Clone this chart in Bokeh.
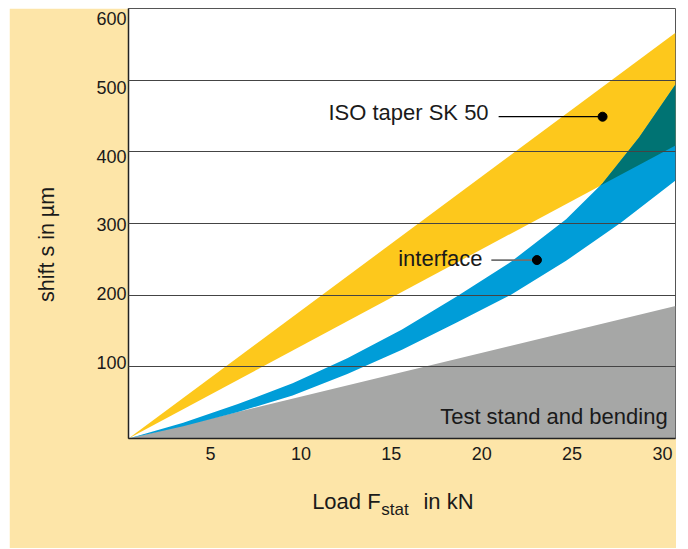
import numpy as np
from bokeh.plotting import figure
from bokeh.models import Range1d, LinearAxis, FixedTicker, Label
from bokeh.embed import file_html
from bokeh.resources import INLINE

# ---------------- data ----------------
iso_x = [0, 30]                 # ISO taper SK 50 band (load, kN)
iso_lower = [0, 409]            # shift, um
iso_upper = [0, 566]

if_upper_x = [0, 3, 6, 9, 12, 15, 18, 21, 24, 26, 28, 30]          # interface band, upper edge
if_upper_y = [0, 22, 48, 77, 112, 152, 198, 247, 306, 356, 420, 494]
if_lower_x = [0, 3, 6, 9, 12, 15, 18, 21, 24, 27, 30]              # interface band, lower edge
if_lower_y = [0, 17, 37, 60, 90, 124, 162, 201, 248, 301, 360]

test_x = [0, 30]                # test stand and bending
test_y = [0, 185]

x_ticks = [5, 10, 15, 20, 25, 30]
y_grid = [100, 200, 300, 400, 500]
y_labels = [100, 200, 300, 400, 500, 600]

iso_marker = (26.0, 449)
if_marker = (22.4, 249)

# ---------------- styling ----------------
FONT = "Liberation Sans"
TXT = "#1a1a1a"
BEIGE = "#FDE5A8"
YELLOW = "#FDC81C"
BLUE = "#009DD8"
TEAL = "#007373"
GRAY = "#A6A7A6"
NB = "\u00a0"

p = figure(width=667, height=540, x_range=Range1d(0, 30), y_range=Range1d(0, 600),
           output_backend="svg", toolbar_location=None, margin=(8, 0, 0, 9),
           min_border_left=119, min_border_right=1, min_border_top=0, min_border_bottom=110,
           background_fill_color="white", border_fill_color=BEIGE,
           outline_line_color="#555555", outline_line_width=1)

# bands
p.varea(x=test_x, y1=[0, 0], y2=test_y, fill_color=GRAY)
p.varea(x=iso_x, y1=iso_lower, y2=iso_upper, fill_color=YELLOW)
p.patch(x=list(if_upper_x) + list(if_lower_x[::-1]),
        y=list(if_upper_y) + list(if_lower_y[::-1]),
        fill_color=BLUE, line_color=None)

# overlap (interface band inside ISO band)
ux = np.array(if_upper_x, dtype=float)
uy = np.array(if_upper_y, dtype=float)
lo = np.interp(ux, iso_x, iso_lower)
d = uy - lo
i = int(np.where((d[:-1] <= 0) & (d[1:] > 0))[0][0])
xi = ux[i] + (ux[i + 1] - ux[i]) * (-d[i]) / (d[i + 1] - d[i])
yi = float(np.interp(xi, iso_x, iso_lower))
sel = ux > xi
top = np.minimum(uy[sel], np.interp(ux[sel], iso_x, iso_upper))
ox = [xi] + list(ux[sel]) + [ux[sel][-1]]
oy = [yi] + list(top) + [float(np.interp(ux[sel][-1], iso_x, iso_lower))]
p.patch(x=ox, y=oy, fill_color=TEAL, line_color=None)

# leader lines and markers
p.line(x=[20.3, iso_marker[0]], y=[iso_marker[1], iso_marker[1]], line_color="black", line_width=1.2)
p.scatter(x=[iso_marker[0]], y=[iso_marker[1]], size=9, color="black")
p.line(x=[19.9, if_marker[0]], y=[if_marker[1], if_marker[1]], line_color="#707070", line_width=1.8)
p.scatter(x=[if_marker[0]], y=[if_marker[1]], size=9, color="black")

# annotations
for txt, x, y in [("ISO taper SK 50", 19.75, 455), ("interface", 19.42, 251),
                  ("Test stand and bending", 29.57, 31)]:
    p.add_layout(Label(x=x, y=y, text=txt, text_align="right", text_baseline="middle",
                       text_font=FONT, text_font_size="22px", text_color=TXT))

# grid
p.xgrid.visible = False
p.ygrid.ticker = FixedTicker(ticks=y_grid)
p.ygrid.grid_line_color = "#444444"
p.ygrid.grid_line_width = 1
p.ygrid.level = "guide"

# main x axis: line only
p.xaxis.ticker = FixedTicker(ticks=[])
p.xaxis.axis_line_color = "#222222"
p.xaxis.axis_line_width = 1.5
p.xaxis.major_tick_out = 0
p.xaxis.major_tick_in = 0
p.xaxis.minor_tick_line_color = None
p.xaxis.major_label_standoff = 0

# main y axis: line + inward ticks only
p.yaxis.ticker = FixedTicker(ticks=y_grid)
p.yaxis.axis_line_color = "#222222"
p.yaxis.axis_line_width = 1.5
p.yaxis.major_tick_in = 3
p.yaxis.major_tick_out = 0
p.yaxis.major_tick_line_color = "#222222"
p.yaxis.minor_tick_line_color = None
p.yaxis.major_label_text_font_size = "0px"
p.yaxis.major_label_text_color = None
p.yaxis.major_label_standoff = 0

# tick-label axes (labels sit slightly off the grid positions in the reference)
p.extra_y_ranges = {"lab": Range1d(-10.5, 614.5)}
ylab = LinearAxis(y_range_name="lab", ticker=FixedTicker(ticks=y_labels),
                  axis_line_color=None, major_tick_line_color=None, minor_tick_line_color=None,
                  major_tick_in=0, major_tick_out=0,
                  major_label_text_font=FONT, major_label_text_font_size="18px",
                  major_label_text_color=TXT, major_label_standoff=2,
                  axis_label="shift s in µm" + NB * 7, axis_label_text_font=FONT,
                  axis_label_text_font_size="21.5px", axis_label_text_font_style="normal",
                  axis_label_text_color=TXT, axis_label_standoff=34)
p.add_layout(ylab, "left")

# x tick labels + title "Load F  in kN" (gap left for the subscript)
p.extra_x_ranges = {"lab": Range1d(0.46, 30.72)}
xlab = LinearAxis(x_range_name="lab", ticker=FixedTicker(ticks=x_ticks),
                  axis_line_color=None, major_tick_line_color=None, minor_tick_line_color=None,
                  major_tick_in=0, major_tick_out=0,
                  major_label_text_font=FONT, major_label_text_font_size="18px",
                  major_label_text_color=TXT, major_label_standoff=8,
                  axis_label="Load F" + NB * 7 + "in kN" + NB * 3,
                  axis_label_text_font=FONT, axis_label_text_font_size="22px",
                  axis_label_text_font_style="normal", axis_label_text_color=TXT,
                  axis_label_standoff=26)
p.add_layout(xlab, "below")

# subscript "stat"
sub = LinearAxis(x_range_name="lab", ticker=FixedTicker(ticks=[]),
                 axis_line_color=None, major_tick_line_color=None, minor_tick_line_color=None,
                 major_tick_in=0, major_tick_out=0, major_label_standoff=0,
                 axis_label="stat" + NB * 3,
                 axis_label_text_font=FONT, axis_label_text_font_size="17px",
                 axis_label_text_font_style="normal", axis_label_text_color=TXT,
                 axis_label_standoff=-17)
p.add_layout(sub, "below")

open("out.html", "w").write(file_html(p, INLINE))
